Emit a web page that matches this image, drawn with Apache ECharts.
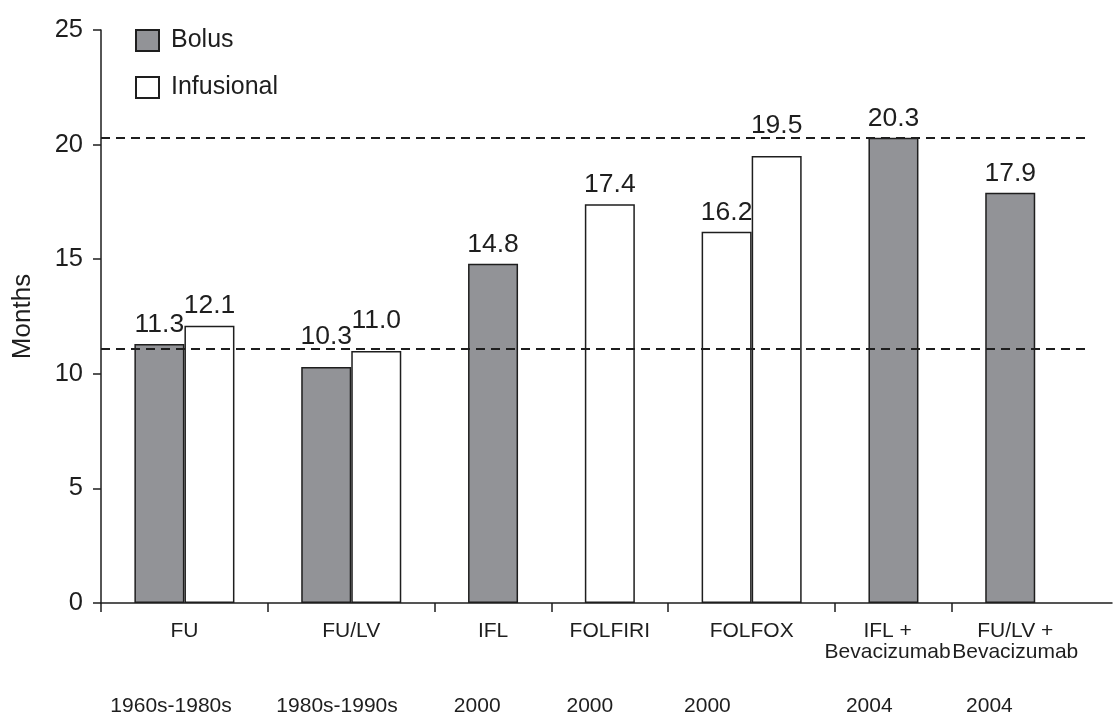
<!DOCTYPE html>
<html>
<head>
    <meta charset="utf-8">
    <title>Median survival</title>
    <script src="https://cdn.jsdelivr.net/npm/echarts@6/dist/echarts.min.js"></script>
</head>
<body style="margin:0">
    <div id="main" style="width:1114px;height:717px;"></div>
    <script type="text/javascript">
        // data
        var categories = ['FU', 'FU/LV', 'IFL', 'FOLFIRI', 'FOLFOX', 'IFL +\nBevacizumab', 'FU/LV +\nBevacizumab'];
        var years = ['1960s-1980s', '1980s-1990s', '2000', '2000', '2000', '2004', '2004'];
        var bolus = [11.3, 10.3, 14.8, null, null, 20.3, 17.9];
        var infusional = [12.1, 11.0, null, 17.4, 16.2, null, null];
        var infusional2 = [null, null, null, null, 19.5, null, null]; // second FOLFOX bar
        var refLines = [11.1, 20.3];

        // layout of the x axis, in bar-width thirds
        var BAR = 3, PAD = 2, X_MAX = 60.6;
        var catShift = [0, 0, 0, 0, 0, -0.35, 0.3];
        var yearShift = [-0.8, -0.85, -0.95, -1.2, -2.65, -1.45, -1.25];
        var font = "'Liberation Sans', Arial, sans-serif";
        var ink = '#1e1e1e';

        var bolusData = [], infData = [], inf2Data = [];
        var centers = [], bounds = [], yearPos = [];
        var pos = 0;
        categories.forEach(function (c, i) {
            bounds.push(pos);
            var x = pos + PAD;
            var groups = [[bolus, bolusData], [infusional, infData], [infusional2, inf2Data]];
            var n = 0;
            groups.forEach(function (g) {
                if (g[0][i] != null) {
                    g[1].push([x + BAR / 2 + n * BAR, g[0][i]]);
                    n++;
                }
            });
            centers.push(x + n * BAR / 2 + catShift[i]);
            yearPos.push(x + n * BAR / 2 + yearShift[i]);
            pos = x + n * BAR + PAD;
        });

        function nearest(list, v) {
            var best = 0;
            list.forEach(function (p, i) {
                if (Math.abs(p - v) < Math.abs(list[best] - v)) best = i;
            });
            return best;
        }

        // lift labels that would sit on a dashed line
        function toItems(arr) {
            return arr.map(function (d) {
                var dist = 6;
                refLines.forEach(function (r) {
                    if (d[1] < r && r - d[1] < 1.5) dist += 11;
                });
                return { value: d, label: { distance: dist } };
            });
        }

        var barLabel = {
            show: true,
            position: 'top',
            fontFamily: font,
            fontSize: 26.5,
            color: ink,
            formatter: function (p) { return p.value[1].toFixed(1); }
        };

        var catLabel = {
            hideOverlap: false,
            margin: 18,
            fontSize: 21,
            lineHeight: 21,
            color: ink,
            formatter: function (v) { return categories[nearest(centers, v)]; }
        };

        // the two "Bevacizumab" labels nearly touch, so the last one sits on its own axis
        function labelAxis(values) {
            return {
                type: 'value',
                min: 0,
                max: X_MAX,
                position: 'bottom',
                splitLine: { show: false },
                axisLine: { show: false },
                axisTick: { show: false },
                axisLabel: Object.assign({}, catLabel, { customValues: values })
            };
        }

        var myChart = echarts.init(document.getElementById('main'));
        var option = {
            animation: false,
            textStyle: { fontFamily: font },
            grid: { left: 101, right: 2, top: 30, bottom: 114, outerBoundsMode: 'none' },
            legend: {
                data: ['Bolus', 'Infusional'],
                orient: 'vertical',
                left: 135,
                top: 28,
                padding: 0,
                itemWidth: 23,
                itemHeight: 21,
                itemGap: 22,
                icon: 'rect',
                selectedMode: false,
                textStyle: { fontFamily: font, fontSize: 25, color: ink, padding: [0, 0, 0, 7] }
            },
            xAxis: [{
                type: 'value',
                min: 0,
                max: X_MAX,
                splitLine: { show: false },
                axisLine: { lineStyle: { color: ink, width: 1.5 } },
                axisTick: { show: true, length: 9, customValues: bounds, lineStyle: { color: ink, width: 1.5 } },
                axisLabel: Object.assign({}, catLabel, { customValues: centers.slice(0, -1) })
            },
            labelAxis(centers.slice(-1)),
            {
                type: 'value',
                min: 0,
                max: X_MAX,
                position: 'bottom',
                splitLine: { show: false },
                axisLine: { show: false },
                axisTick: { show: false },
                axisLabel: {
                    customValues: yearPos,
                    hideOverlap: false,
                    margin: 93,
                    fontSize: 21,
                    color: ink,
                    formatter: function (v) { return years[nearest(yearPos, v)]; }
                }
            }],
            yAxis: {
                type: 'value',
                min: 0,
                max: 25,
                interval: 5,
                name: 'Months',
                nameLocation: 'middle',
                nameRotate: 90,
                nameGap: 65,
                nameTextStyle: { fontSize: 26, color: ink },
                splitLine: { show: false },
                axisLine: { show: true, lineStyle: { color: ink, width: 1.5 } },
                axisTick: { show: true, length: 8, lineStyle: { color: ink, width: 1.5 } },
                axisLabel: { fontSize: 25.5, color: ink, margin: 18 }
            },
            series: [{
                name: 'Bolus',
                type: 'bar',
                barWidth: 50,
                barGap: '-100%',
                data: toItems(bolusData),
                itemStyle: { color: '#929397', borderColor: ink, borderWidth: 1.5 },
                label: barLabel,
                markLine: {
                    silent: true,
                    symbol: 'none',
                    label: { show: false },
                    lineStyle: { color: ink, width: 2, type: [9, 6] },
                    data: refLines.map(function (r) {
                        return [{ coord: [0, r] }, { coord: [59, r] }];
                    })
                }
            }, {
                name: 'Infusional',
                type: 'bar',
                barWidth: 50,
                barGap: '-100%',
                data: toItems(infData),
                itemStyle: { color: '#ffffff', borderColor: ink, borderWidth: 1.5 },
                label: barLabel
            }, {
                name: 'Infusional',
                type: 'bar',
                barWidth: 50,
                barGap: '-100%',
                data: toItems(inf2Data),
                itemStyle: { color: '#ffffff', borderColor: ink, borderWidth: 1.5 },
                label: barLabel
            }]
        };
        myChart.setOption(option);
    </script>
</body>
</html>
